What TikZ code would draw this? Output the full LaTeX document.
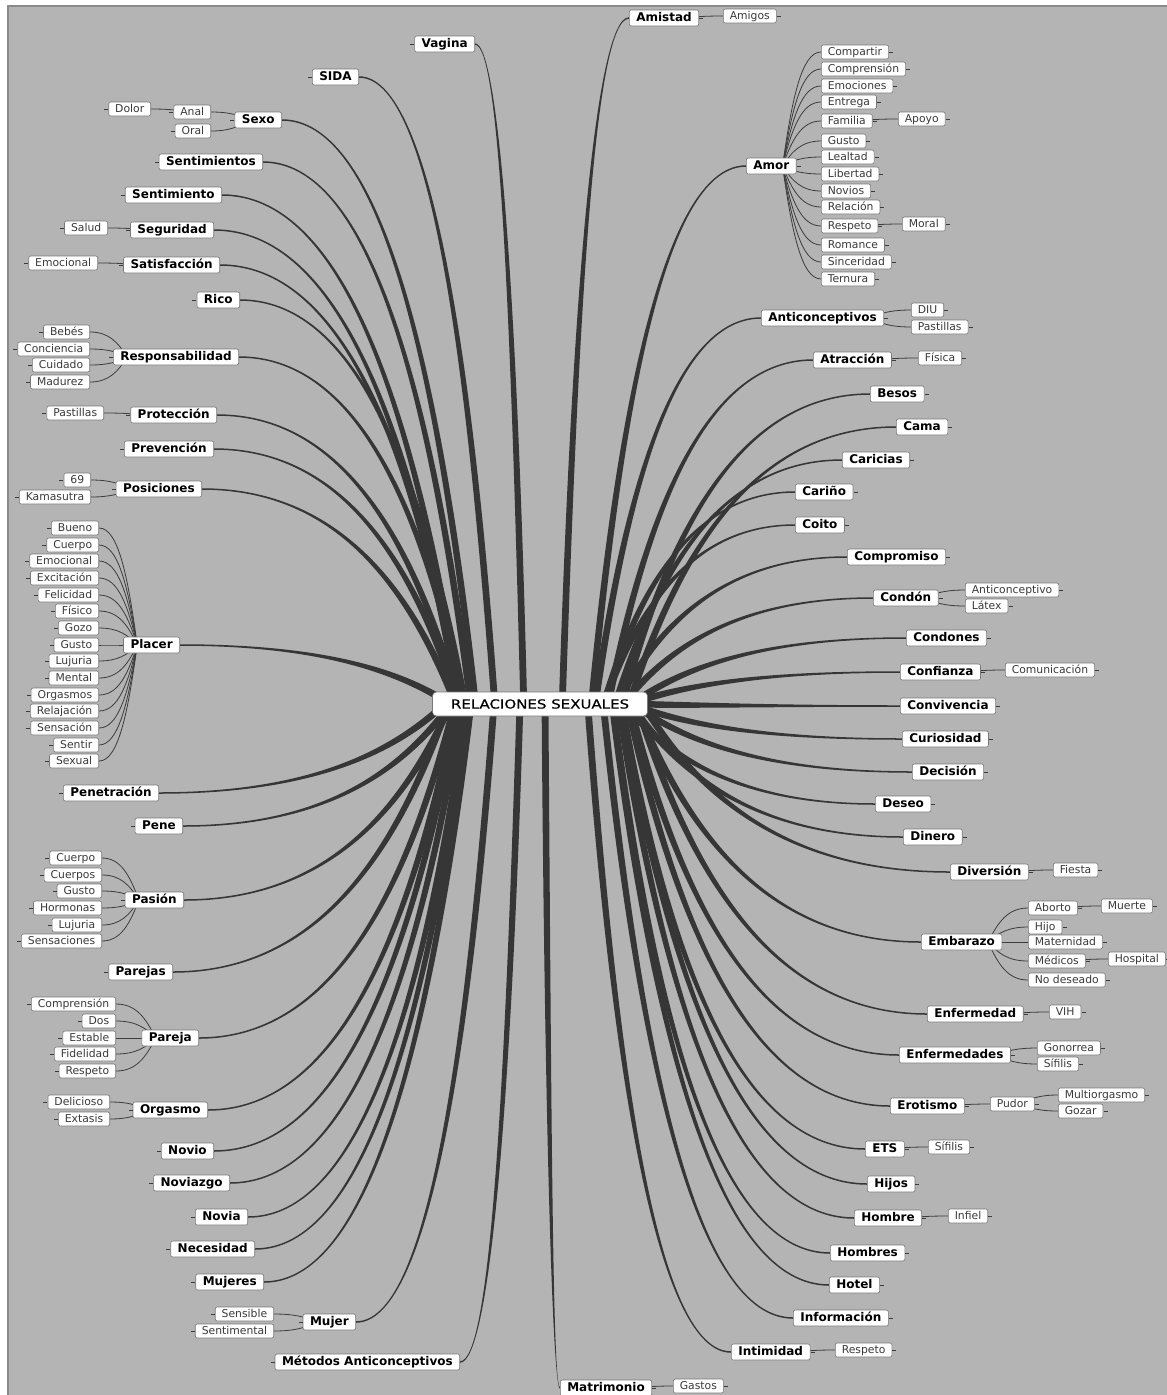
\documentclass[tikz,border=0pt]{standalone}
\usepackage{fontspec}
\usetikzlibrary{calc,backgrounds}
\newfontfamily\mapfamily{DejaVu Sans}
\newfontfamily\rootfamily[FakeStretch=1.2,FakeBold=0.6]{DejaVu Sans}
\newcommand{\mapmain}{\mapfamily\bfseries\fontsize{12}{14}\selectfont}
\newcommand{\mapsub}{\mapfamily\fontsize{10.8}{12}\selectfont}
\newcommand{\maproot}{\rootfamily\fontsize{12.5}{15}\selectfont}
\definecolor{bggray}{HTML}{B4B4B4}
\definecolor{frameline}{HTML}{8A8A8A}
\definecolor{boxline}{HTML}{777777}
\definecolor{branchcol}{HTML}{363636}
\definecolor{twigcol}{HTML}{3C3C3C}
\definecolor{subtext}{HTML}{3A3A3A}

% thick tapered branch from the hub to a main node
\newcommand{\branch}[1]{%
  \coordinate (bT) at ($(hub)!0.25!(#1)$);
  \coordinate (bA) at (bT |- hub);
  \coordinate (bT) at ($(hub)!0.4!(#1)$);
  \coordinate (bU) at ($(hub)!0.6!(#1)$);
  \coordinate (bB) at (bT |- bU);
  \coordinate (bT) at ($(hub)!0.625!(#1)$);
  \coordinate (bC) at (bT |- #1);
  \coordinate (bD) at (#1);
  \coordinate (bA1) at ($(bA)!3.4pt!90:(bB)$);
  \coordinate (bA2) at ($(bA)!3.4pt!-90:(bB)$);
  \coordinate (bD1) at ($(bD)!0.75pt!-90:(bC)$);
  \coordinate (bD2) at ($(bD)!0.75pt!90:(bC)$);
  \fill[branchcol] (bA1) .. controls ($(bB)+(bA1)-(bA)$) and ($(bC)+(bD1)-(bD)$) .. (bD1)
    -- (bD2) .. controls ($(bC)+(bD2)-(bD)$) and ($(bB)+(bA2)-(bA)$) .. (bA2) -- cycle;
}
% thin twigs from a node to its children
\newcommand{\twigL}[2]{%
  \coordinate (tA) at ($(#1.west)!14pt!(#1.center)$);
  \coordinate (tT) at ($(tA)!0.25!(#2.east)$);
  \coordinate (tU) at ($(tA)!0.6!(#2.east)$);
  \coordinate (tC) at ($(tA)!0.5!(#2.east)$);
  \draw[twigline] (tA) .. controls (tT |- tU) and (tC |- #2.east) .. (#2.east);
}
\newcommand{\twigR}[2]{%
  \coordinate (tA) at ($(#1.east)!14pt!(#1.center)$);
  \coordinate (tT) at ($(tA)!0.25!(#2.west)$);
  \coordinate (tU) at ($(tA)!0.6!(#2.west)$);
  \coordinate (tC) at ($(tA)!0.5!(#2.west)$);
  \draw[twigline] (tA) .. controls (tT |- tU) and (tC |- #2.west) .. (#2.west);
}

\tikzset{
  mapbox/.style={draw=boxline, fill=white, rounded corners=2pt, inner ysep=0pt, line width=0.6pt},
  stubtick/.style={inner sep=0pt, minimum width=4pt, minimum height=0.8pt, fill=twigcol},
  mainL/.style={mapbox, font=\mapmain, inner xsep=7pt, minimum height=16pt, text height=9pt, text depth=2.5pt, anchor=east, label={[stubtick]west:}},
  mainR/.style={mapbox, font=\mapmain, inner xsep=7pt, minimum height=16pt, text height=9pt, text depth=2.5pt, anchor=west, label={[stubtick]east:}},
  subL/.style={mapbox, font=\mapsub, text=subtext, inner xsep=6.5pt, minimum height=14pt, text height=8pt, text depth=2pt, anchor=east, label={[stubtick]west:}},
  subR/.style={mapbox, font=\mapsub, text=subtext, inner xsep=6.5pt, minimum height=14pt, text height=8pt, text depth=2pt, anchor=west, label={[stubtick]east:}},
  rootnode/.style={mapbox, font=\maproot, rounded corners=4pt, minimum width=215pt, minimum height=24pt},
  twigline/.style={draw=twigcol, line width=0.8pt}
}

\begin{document}
\begin{tikzpicture}[x=1pt, y=-1pt]
\useasboundingbox (0,0) rectangle (1167,1395);

\node[rootnode] (root) at (540,704) {RELACIONES SEXUALES};
\coordinate (hub) at (540,704);

% left side
\node[mainL] (Vagina) at (475,44) {Vagina};
\node[mainL] (SIDA) at (359,77) {SIDA};
\node[mainL] (Sexo) at (282,120) {Sexo};
\node[subL] (Anal) at (211,112) {Anal};
\node[subL] (Oral) at (211,131) {Oral};
\node[subL] (Dolor) at (151,109) {Dolor};
\node[mainL] (Sentimientos) at (263,162) {Sentimientos};
\node[mainL] (Sentimiento) at (222,195) {Sentimiento};
\node[mainL] (Seguridad) at (214,230) {Seguridad};
\node[subL] (Salud) at (108,228) {Salud};
\node[mainL] (Satisfaccion) at (220,265) {Satisfacción};
\node[subL] (SatEmocional) at (98,263) {Emocional};
\node[mainL] (Rico) at (240,300) {Rico};
\node[mainL] (Responsabilidad) at (239,357) {Responsabilidad};
\node[subL] (Bebes) at (90,332) {Bebés};
\node[subL] (Conciencia) at (90,349) {Conciencia};
\node[subL] (Cuidado) at (90,365) {Cuidado};
\node[subL] (Madurez) at (90,382) {Madurez};
\node[mainL] (Proteccion) at (217,415) {Protección};
\node[subL] (ProPastillas) at (104,413) {Pastillas};
\node[mainL] (Prevencion) at (214,449) {Prevención};
\node[mainL] (Posiciones) at (202,489) {Posiciones};
\node[subL] (PosNueve) at (91,480) {69};
\node[subL] (Kamasutra) at (91,497) {Kamasutra};
\node[mainL] (Placer) at (180,645) {Placer};
\node[subL] (PlBueno) at (99,528) {Bueno};
\node[subL] (PlCuerpo) at (99,545) {Cuerpo};
\node[subL] (PlEmocional) at (99,561) {Emocional};
\node[subL] (PlExcitacion) at (99,578) {Excitación};
\node[subL] (PlFelicidad) at (99,595) {Felicidad};
\node[subL] (PlFisico) at (99,611) {Físico};
\node[subL] (PlGozo) at (99,628) {Gozo};
\node[subL] (PlGusto) at (99,645) {Gusto};
\node[subL] (PlLujuria) at (99,661) {Lujuria};
\node[subL] (PlMental) at (99,678) {Mental};
\node[subL] (PlOrgasmos) at (99,695) {Orgasmos};
\node[subL] (PlRelajacion) at (99,711) {Relajación};
\node[subL] (PlSensacion) at (99,728) {Sensación};
\node[subL] (PlSentir) at (99,745) {Sentir};
\node[subL] (PlSexual) at (99,761) {Sexual};
\node[mainL] (Penetracion) at (159,793) {Penetración};
\node[mainL] (Pene) at (183,826) {Pene};
\node[mainL] (Pasion) at (184,900) {Pasión};
\node[subL] (PaCuerpo) at (102,858) {Cuerpo};
\node[subL] (PaCuerpos) at (102,875) {Cuerpos};
\node[subL] (PaGusto) at (102,891) {Gusto};
\node[subL] (PaHormonas) at (102,908) {Hormonas};
\node[subL] (PaLujuria) at (102,925) {Lujuria};
\node[subL] (PaSensaciones) at (102,941) {Sensaciones};
\node[mainL] (Parejas) at (173,972) {Parejas};
\node[mainL] (Pareja) at (199,1038) {Pareja};
\node[subL] (PjComprension) at (116,1004) {Comprensión};
\node[subL] (PjDos) at (116,1021) {Dos};
\node[subL] (PjEstable) at (116,1038) {Estable};
\node[subL] (PjFidelidad) at (116,1054) {Fidelidad};
\node[subL] (PjRespeto) at (116,1071) {Respeto};
\node[mainL] (Orgasmo) at (208,1110) {Orgasmo};
\node[subL] (Delicioso) at (110,1102) {Delicioso};
\node[subL] (Extasis) at (110,1119) {Extasis};
\node[mainL] (Novio) at (214,1151) {Novio};
\node[mainL] (Noviazgo) at (230,1183) {Noviazgo};
\node[mainL] (Novia) at (248,1217) {Novia};
\node[mainL] (Necesidad) at (255,1249) {Necesidad};
\node[mainL] (Mujeres) at (264,1282) {Mujeres};
\node[mainL] (Mujer) at (356,1322) {Mujer};
\node[subL] (Sensible) at (274,1314) {Sensible};
\node[subL] (Sentimental) at (274,1331) {Sentimental};
\node[mainL] (Metodos) at (460,1362) {Métodos Anticonceptivos};

% right side
\node[mainR] (Amistad) at (629,18) {Amistad};
\node[subR] (Amigos) at (723,16) {Amigos};
\node[mainR] (Amor) at (746,166) {Amor};
\node[subR] (AmCompartir) at (821,52) {Compartir};
\node[subR] (AmComprension) at (821,69) {Comprensión};
\node[subR] (AmEmociones) at (821,86) {Emociones};
\node[subR] (AmEntrega) at (821,102) {Entrega};
\node[subR] (AmFamilia) at (821,121) {Familia};
\node[subR] (Apoyo) at (898,119) {Apoyo};
\node[subR] (AmGusto) at (821,141) {Gusto};
\node[subR] (AmLealtad) at (821,157) {Lealtad};
\node[subR] (AmLibertad) at (821,174) {Libertad};
\node[subR] (AmNovios) at (821,191) {Novios};
\node[subR] (AmRelacion) at (821,207) {Relación};
\node[subR] (AmRespeto) at (821,226) {Respeto};
\node[subR] (Moral) at (902,224) {Moral};
\node[subR] (AmRomance) at (821,245) {Romance};
\node[subR] (AmSinceridad) at (821,262) {Sinceridad};
\node[subR] (AmTernura) at (821,279) {Ternura};
\node[mainR] (Anticonceptivos) at (761,318) {Anticonceptivos};
\node[subR] (DIU) at (911,310) {DIU};
\node[subR] (AcPastillas) at (911,327) {Pastillas};
\node[mainR] (Atraccion) at (813,360) {Atracción};
\node[subR] (Fisica) at (918,358) {Física};
\node[mainR] (Besos) at (870,394) {Besos};
\node[mainR] (Cama) at (896,427) {Cama};
\node[mainR] (Caricias) at (842,460) {Caricias};
\node[mainR] (Carino) at (795,492) {Cariño};
\node[mainR] (Coito) at (795,525) {Coito};
\node[mainR] (Compromiso) at (847,557) {Compromiso};
\node[mainR] (Condon) at (873,598) {Condón};
\node[subR] (Anticonceptivo) at (965,590) {Anticonceptivo};
\node[subR] (Latex) at (965,606) {Látex};
\node[mainR] (Condones) at (906,638) {Condones};
\node[mainR] (Confianza) at (900,672) {Confianza};
\node[subR] (Comunicacion) at (1005,670) {Comunicación};
\node[mainR] (Convivencia) at (900,706) {Convivencia};
\node[mainR] (Curiosidad) at (902,739) {Curiosidad};
\node[mainR] (Decision) at (912,772) {Decisión};
\node[mainR] (Deseo) at (875,804) {Deseo};
\node[mainR] (Dinero) at (903,837) {Dinero};
\node[mainR] (Diversion) at (950,872) {Diversión};
\node[subR] (Fiesta) at (1053,870) {Fiesta};
\node[mainR] (Embarazo) at (921,942) {Embarazo};
\node[subR] (Aborto) at (1028,908) {Aborto};
\node[subR] (Muerte) at (1101,906) {Muerte};
\node[subR] (Hijo) at (1028,927) {Hijo};
\node[subR] (Maternidad) at (1028,942) {Maternidad};
\node[subR] (Medicos) at (1028,961) {Médicos};
\node[subR] (Hospital) at (1108,959) {Hospital};
\node[subR] (NoDeseado) at (1028,980) {No deseado};
\node[mainR] (Enfermedad) at (927,1014) {Enfermedad};
\node[subR] (VIH) at (1049,1012) {VIH};
\node[mainR] (Enfermedades) at (899,1055) {Enfermedades};
\node[subR] (Gonorrea) at (1037,1048) {Gonorrea};
\node[subR] (EnSifilis) at (1037,1064) {Sífilis};
\node[mainR] (Erotismo) at (890,1106) {Erotismo};
\node[subR] (Pudor) at (990,1104) {Pudor};
\node[subR] (Multiorgasmo) at (1058,1095) {Multiorgasmo};
\node[subR] (Gozar) at (1058,1111) {Gozar};
\node[mainR] (ETS) at (865,1149) {ETS};
\node[subR] (EtsSifilis) at (928,1147) {Sífilis};
\node[mainR] (Hijos) at (867,1184) {Hijos};
\node[mainR] (Hombre) at (854,1218) {Hombre};
\node[subR] (Infiel) at (948,1216) {Infiel};
\node[mainR] (Hombres) at (830,1253) {Hombres};
\node[mainR] (Hotel) at (829,1285) {Hotel};
\node[mainR] (Informacion) at (793,1318) {Información};
\node[mainR] (Intimidad) at (731,1352) {Intimidad};
\node[subR] (InRespeto) at (835,1350) {Respeto};
\node[mainR] (Matrimonio) at (560,1388) {Matrimonio};
\node[subR] (Gastos) at (673,1386) {Gastos};

\begin{pgfonlayer}{background}
\fill[white] (0,0) rectangle (1167,1395);
\filldraw[fill=bggray, draw=frameline, line width=1.2pt] (8,6) rectangle (1180,1410);

% main branches
\branch{Vagina.east}
\branch{SIDA.east}
\branch{Sexo.east}
\branch{Sentimientos.east}
\branch{Sentimiento.east}
\branch{Seguridad.east}
\branch{Satisfaccion.east}
\branch{Rico.east}
\branch{Responsabilidad.east}
\branch{Proteccion.east}
\branch{Prevencion.east}
\branch{Posiciones.east}
\branch{Placer.east}
\branch{Penetracion.east}
\branch{Pene.east}
\branch{Pasion.east}
\branch{Parejas.east}
\branch{Pareja.east}
\branch{Orgasmo.east}
\branch{Novio.east}
\branch{Noviazgo.east}
\branch{Novia.east}
\branch{Necesidad.east}
\branch{Mujeres.east}
\branch{Mujer.east}
\branch{Metodos.east}
\branch{Amistad.west}
\branch{Amor.west}
\branch{Anticonceptivos.west}
\branch{Atraccion.west}
\branch{Besos.west}
\branch{Cama.west}
\branch{Caricias.west}
\branch{Carino.west}
\branch{Coito.west}
\branch{Compromiso.west}
\branch{Condon.west}
\branch{Condones.west}
\branch{Confianza.west}
\branch{Convivencia.west}
\branch{Curiosidad.west}
\branch{Decision.west}
\branch{Deseo.west}
\branch{Dinero.west}
\branch{Diversion.west}
\branch{Embarazo.west}
\branch{Enfermedad.west}
\branch{Enfermedades.west}
\branch{Erotismo.west}
\branch{ETS.west}
\branch{Hijos.west}
\branch{Hombre.west}
\branch{Hombres.west}
\branch{Hotel.west}
\branch{Informacion.west}
\branch{Intimidad.west}
\branch{Matrimonio.west}

% twigs, left
\twigL{Sexo}{Anal}
\twigL{Sexo}{Oral}
\twigL{Anal}{Dolor}
\twigL{Seguridad}{Salud}
\twigL{Satisfaccion}{SatEmocional}
\twigL{Responsabilidad}{Bebes}
\twigL{Responsabilidad}{Conciencia}
\twigL{Responsabilidad}{Cuidado}
\twigL{Responsabilidad}{Madurez}
\twigL{Proteccion}{ProPastillas}
\twigL{Posiciones}{PosNueve}
\twigL{Posiciones}{Kamasutra}
\twigL{Placer}{PlBueno}
\twigL{Placer}{PlCuerpo}
\twigL{Placer}{PlEmocional}
\twigL{Placer}{PlExcitacion}
\twigL{Placer}{PlFelicidad}
\twigL{Placer}{PlFisico}
\twigL{Placer}{PlGozo}
\twigL{Placer}{PlGusto}
\twigL{Placer}{PlLujuria}
\twigL{Placer}{PlMental}
\twigL{Placer}{PlOrgasmos}
\twigL{Placer}{PlRelajacion}
\twigL{Placer}{PlSensacion}
\twigL{Placer}{PlSentir}
\twigL{Placer}{PlSexual}
\twigL{Pasion}{PaCuerpo}
\twigL{Pasion}{PaCuerpos}
\twigL{Pasion}{PaGusto}
\twigL{Pasion}{PaHormonas}
\twigL{Pasion}{PaLujuria}
\twigL{Pasion}{PaSensaciones}
\twigL{Pareja}{PjComprension}
\twigL{Pareja}{PjDos}
\twigL{Pareja}{PjEstable}
\twigL{Pareja}{PjFidelidad}
\twigL{Pareja}{PjRespeto}
\twigL{Orgasmo}{Delicioso}
\twigL{Orgasmo}{Extasis}
\twigL{Mujer}{Sensible}
\twigL{Mujer}{Sentimental}

% twigs, right
\twigR{Amistad}{Amigos}
\twigR{Amor}{AmCompartir}
\twigR{Amor}{AmComprension}
\twigR{Amor}{AmEmociones}
\twigR{Amor}{AmEntrega}
\twigR{Amor}{AmFamilia}
\twigR{Amor}{AmGusto}
\twigR{Amor}{AmLealtad}
\twigR{Amor}{AmLibertad}
\twigR{Amor}{AmNovios}
\twigR{Amor}{AmRelacion}
\twigR{Amor}{AmRespeto}
\twigR{Amor}{AmRomance}
\twigR{Amor}{AmSinceridad}
\twigR{Amor}{AmTernura}
\twigR{AmFamilia}{Apoyo}
\twigR{AmRespeto}{Moral}
\twigR{Anticonceptivos}{DIU}
\twigR{Anticonceptivos}{AcPastillas}
\twigR{Atraccion}{Fisica}
\twigR{Condon}{Anticonceptivo}
\twigR{Condon}{Latex}
\twigR{Confianza}{Comunicacion}
\twigR{Diversion}{Fiesta}
\twigR{Embarazo}{Aborto}
\twigR{Embarazo}{Hijo}
\twigR{Embarazo}{Maternidad}
\twigR{Embarazo}{Medicos}
\twigR{Embarazo}{NoDeseado}
\twigR{Aborto}{Muerte}
\twigR{Medicos}{Hospital}
\twigR{Enfermedad}{VIH}
\twigR{Enfermedades}{Gonorrea}
\twigR{Enfermedades}{EnSifilis}
\twigR{Erotismo}{Pudor}
\twigR{Pudor}{Multiorgasmo}
\twigR{Pudor}{Gozar}
\twigR{ETS}{EtsSifilis}
\twigR{Hombre}{Infiel}
\twigR{Intimidad}{InRespeto}
\twigR{Matrimonio}{Gastos}
\end{pgfonlayer}
\end{tikzpicture}
\end{document}
